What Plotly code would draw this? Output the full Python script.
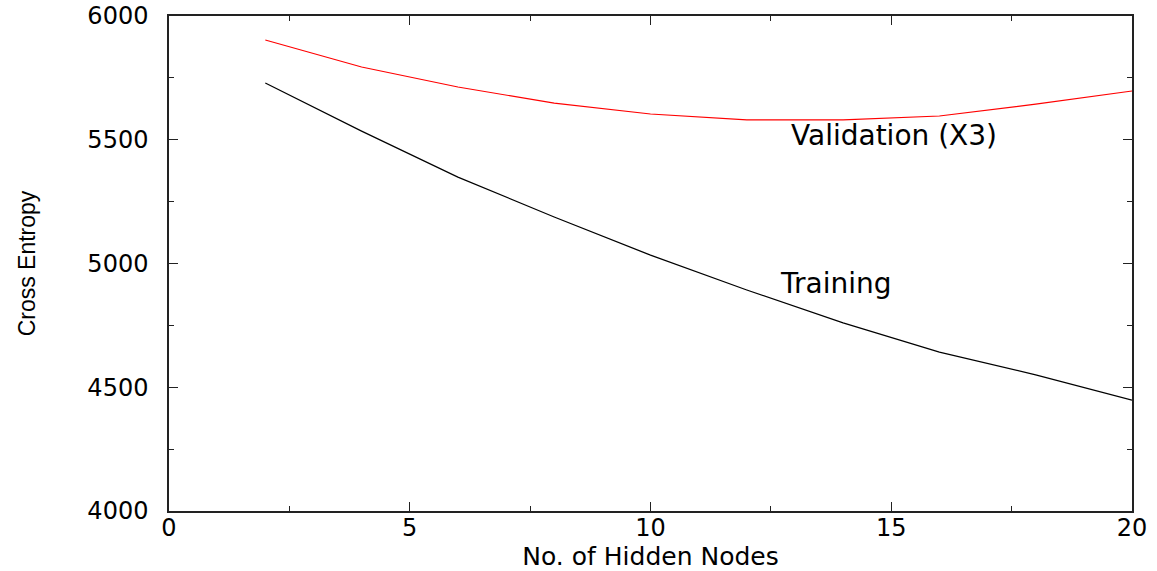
import plotly.graph_objects as go

# Hidden-node counts and cross-entropy values
hidden_nodes = [2, 4, 6, 8, 10, 12, 14, 16, 18, 20]
training = [5729, 5535, 5349, 5188, 5034, 4893, 4760, 4642, 4550, 4448]
validation_x3 = [5903, 5794, 5713, 5648, 5604, 5580, 5580, 5596, 5644, 5697]

x_ticks = [0, 5, 10, 15, 20]
y_ticks = [4000, 4500, 5000, 5500, 6000]

WIDE = "DejaVu Sans, Arial, sans-serif"
tick_font = dict(family=WIDE, size=24, color="black")

fig = go.Figure()
fig.add_trace(go.Scatter(x=hidden_nodes, y=validation_x3, mode="lines",
                         line=dict(color="#ff0000", width=1.2), name="Validation (X3)"))
fig.add_trace(go.Scatter(x=hidden_nodes, y=training, mode="lines",
                         line=dict(color="black", width=1.2), name="Training"))

fig.add_annotation(x=15.06, y=5519, text="Validation (X3)", showarrow=False,
                   font=dict(family=WIDE, size=28, color="black"))
fig.add_annotation(x=13.85, y=4921, text="Training", showarrow=False,
                   font=dict(family=WIDE, size=28, color="black"))

axis_common = dict(showgrid=False, zeroline=False, showline=True, linecolor="#222",
                   linewidth=1.5, mirror="ticks", ticks="inside", ticklen=9,
                   tickcolor="#222", tickwidth=1.2, tickfont=tick_font, automargin=False)

fig.update_xaxes(range=[0, 20], tickvals=x_ticks, ticktext=[str(v) for v in x_ticks],
                 minor=dict(dtick=2.5, ticks="inside", ticklen=5, tickcolor="#222"),
                 ticklabelstandoff=-6,
                 title=dict(text="No. of Hidden Nodes", standoff=14,
                            font=dict(family=WIDE, size=25, color="black")),
                 **axis_common)
fig.update_yaxes(range=[4000, 6000], tickvals=y_ticks, ticktext=[str(v) for v in y_ticks],
                 minor=dict(dtick=250, ticks="inside", ticklen=5, tickcolor="#222"),
                 ticklabelstandoff=14,
                 title=dict(text="Cross Entropy", standoff=45,
                            font=dict(family="Liberation Sans, Arial, sans-serif",
                                      size=23, color="black")),
                 **axis_common)

fig.update_layout(width=1157, height=571, showlegend=False,
                  margin=dict(l=169, r=25, t=16, b=60),
                  plot_bgcolor="white", paper_bgcolor="white")

fig.write_html("out.html")
